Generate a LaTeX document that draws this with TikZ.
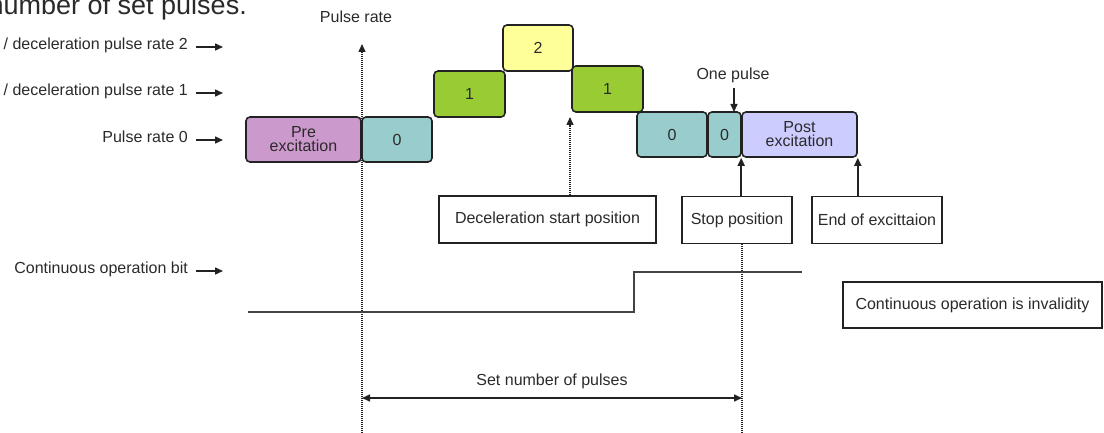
\documentclass[tikz,border=0pt]{standalone}
\usepackage{fontspec}
\setmainfont{Liberation Sans}
\usetikzlibrary{arrows.meta}
\definecolor{txt}{HTML}{2A2A2A}
\definecolor{edge}{HTML}{222222}
\definecolor{prec}{HTML}{CC99CC}
\definecolor{teal0}{HTML}{99CCCC}
\definecolor{green1}{HTML}{99CC33}
\definecolor{yellow2}{HTML}{FFFF99}
\definecolor{postc}{HTML}{CCCCFF}
\tikzset{
  stepbox/.style={draw=edge, line width=1.6pt, rounded corners=4pt, inner sep=0pt, align=center, text=txt},
  infobox/.style={draw=edge, line width=1.5pt, fill=white, inner sep=0pt, align=center, text=txt},
  lbl/.style={text=txt, inner sep=0pt},
  solidarrow/.style={draw=edge, line width=1.5pt, -{Triangle[length=8pt,width=7pt]}},
  dotarrow/.style={draw=edge, line width=1.3pt, dash pattern=on 1pt off 1pt, -{Triangle[length=8pt,width=7pt]}},
  dotline/.style={draw=edge, line width=1.3pt, dash pattern=on 1pt off 1pt},
  sigline/.style={draw=edge!85, line width=1.6pt},
}
\begin{document}
\begin{tikzpicture}[x=1pt,y=-1pt, font=\fontsize{16}{14}\selectfont]
\useasboundingbox (0,0) rectangle (1104,433);
\clip (0,0) rectangle (1104,433);

% top title, cut off at the edge as in the reference
\node[lbl, anchor=base east, font=\fontsize{27}{30}\selectfont] (title) at (247,15) {number of set pulses.};

% left labels
\node[lbl, anchor=mid east] (l2) at (188,47) {/ deceleration pulse rate 2};
\node[lbl, anchor=mid east] (l1) at (188,93) {/ deceleration pulse rate 1};
\node[lbl, anchor=mid east] (l0) at (188,140) {Pulse rate 0};
\node[lbl, anchor=mid east] (lc) at (188,271) {Continuous operation bit};
\coordinate (a2) at (223,47);
\coordinate (a1) at (223,93);
\coordinate (a0) at (223,140);
\coordinate (ac) at (223,271);
\draw[solidarrow] (l2.mid east) ++(8,0) -- (a2);
\draw[solidarrow] (l1.mid east) ++(8,0) -- (a1);
\draw[solidarrow] (l0.mid east) ++(8,0) -- (a0);
\draw[solidarrow] (lc.mid east) ++(8,0) -- (ac);

% pulse rate axis
\coordinate (axb) at (362,433);
\coordinate (axt) at (362,44);
\node[lbl] (prate) at (356,17) {Pulse rate};

% step boxes
\node[stepbox, fill=prec, minimum width=115pt, minimum height=45pt] (pre) at (303.5,139.5) {Pre\\excitation};
\node[stepbox, fill=teal0, minimum width=70pt, minimum height=45pt] (z0) at (397,139.5) {0};
\node[stepbox, fill=green1, minimum width=71pt, minimum height=46pt] (one1) at (469.5,94) {1};
\node[stepbox, fill=yellow2, minimum width=70pt, minimum height=46pt] (two) at (538,48) {2};
\node[stepbox, fill=green1, minimum width=71pt, minimum height=46pt] (one2) at (607.5,89) {1};
\node[stepbox, fill=teal0, minimum width=70pt, minimum height=45pt] (z1) at (672,134.5) {0};
\node[stepbox, fill=teal0, minimum width=33pt, minimum height=45pt] (z2) at (724.5,134.5) {0};
\node[stepbox, fill=postc, minimum width=115pt, minimum height=45pt] (post) at (799.5,134.5) {Post\\excitation};

\draw[dotarrow] (axb) -- (axt);

% one pulse
\node[lbl] (onep) at (733,75) {One pulse};
\coordinate (opt) at (734,112);
\draw[solidarrow] (734,88) -- (opt);

% info boxes
\node[infobox, minimum width=217pt, minimum height=47pt] (decel) at (547.5,219.5) {Deceleration start position};
\node[infobox, minimum width=110pt, minimum height=47pt] (stop) at (737,220) {Stop position};
\node[infobox, minimum width=130pt, minimum height=47pt] (endx) at (877,220) {End of excittaion};
\node[infobox, minimum width=259pt, minimum height=46pt] (cont) at (972.5,305) {Continuous operation is invalidity};

\coordinate (dtip) at (570,117);
\draw[dotarrow] (decel.north -| dtip) -- (dtip);
\draw[solidarrow] (stop.north -| post.south west) -- (post.south west);
\coordinate (stopb) at (742,433);
\draw[dotline] (stop.south -| stopb) -- (stopb);
\draw[solidarrow] (endx.north -| post.south east) -- (post.south east);

% continuous operation bit signal
\coordinate (s0) at (248,312);
\coordinate (s1) at (634,312);
\coordinate (s2) at (634,272);
\coordinate (s3) at (802,272);
\draw[sigline] (s0) -- (s1) -- (s2) -- (s3);

% set number of pulses
\coordinate (n0) at (362,398);
\coordinate (n1) at (742,398);
\draw[draw=edge, line width=1.5pt, {Triangle[length=8pt,width=7pt]}-{Triangle[length=8pt,width=7pt]}] (n0) -- (n1);
\node[lbl] (setn) at (552,381) {Set number of pulses};
\end{tikzpicture}
\end{document}
